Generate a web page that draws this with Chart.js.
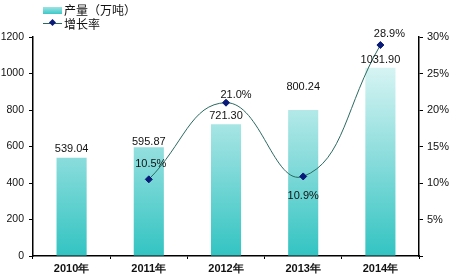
<!DOCTYPE html>
<html><head><meta charset="utf-8">
<script src="https://cdn.jsdelivr.net/npm/chart.js@4/dist/chart.umd.min.js"></script>
<style>
body{margin:0;background:#fff}
#wrap{position:relative;width:450px;height:278px}
.lg{position:absolute;font-family:'Noto Sans CJK SC',sans-serif;font-size:12px;color:#111;line-height:14px}
.sw{position:absolute}
</style></head><body>
<div id="wrap">
<canvas id="c" width="450" height="278"></canvas>
<div class="sw" style="left:43px;top:7px;width:19px;height:7px;background:linear-gradient(#9fe3e3,#3cc8c8)"></div>
<div class="lg" style="left:64px;top:3px">产量（万吨）</div>
<div class="sw" style="left:43px;top:23px;width:19px;height:1px;background:#2a6a60"></div>
<div class="sw" style="left:50px;top:20px;width:5px;height:5px;background:#0a1a78;transform:rotate(45deg)"></div>
<div class="lg" style="left:64px;top:17px">增长率</div>
</div>
<script>
const categories = ['2010年','2011年','2012年','2013年','2014年'];
const output = [539.04, 595.87, 721.30, 800.24, 1031.90];
const growth = [null, 10.5, 21.0, 10.9, 28.9];
const leftTicks = [0,200,400,600,800,1000,1200];
const rightTicks = [0,5,10,15,20,25,30];

const gradPlugin = {
  id:'grad',
  beforeDatasetDraw(chart, args){
    if(args.index!==0) return;
    const ctx = chart.ctx;
    args.meta.data.forEach(el=>{
      const g = ctx.createLinearGradient(0, el.y, 0, el.base);
      g.addColorStop(0,'#d6f4f3');
      g.addColorStop(0.45,'#8fdedd');
      g.addColorStop(1,'#33c4c2');
      el.options.backgroundColor = g;
    });
  }
};
// label offsets (dx, dy) relative to bar top / point
const barLblOff = [[0,-9],[0,-5],[0,-8],[0,-23],[0,-8]];
const lineLblOff = [null,[2,-15],[10,-8],[0,20],[9,-11]];
const labelPlugin = {
  id:'lbl',
  afterDatasetsDraw(chart){
    const ctx = chart.ctx;
    ctx.save();
    ctx.font = '11px "Liberation Sans", Arial, sans-serif';
    ctx.fillStyle = '#111';
    ctx.textAlign = 'center';
    ctx.textBaseline = 'middle';
    chart.getDatasetMeta(0).data.forEach((el,i)=>{
      ctx.fillText(output[i].toFixed(2), el.x + barLblOff[i][0], el.y + barLblOff[i][1]);
    });
    chart.getDatasetMeta(1).data.forEach((el,i)=>{
      if(growth[i]==null) return;
      ctx.fillText(growth[i].toFixed(1)+'%', el.x + lineLblOff[i][0], el.y + lineLblOff[i][1]);
    });
    ctx.restore();
  }
};

new Chart(document.getElementById('c'), {
  data:{
    labels: categories,
    datasets:[
      {type:'bar', data: output, yAxisID:'y', barPercentage:0.78, categoryPercentage:0.5, backgroundColor:'#3cc8c8', order:2},
      {type:'line', data: growth, yAxisID:'y1', borderColor:'#2a6a60', borderWidth:1, tension:0.45,
       pointStyle:'rectRot', pointRadius:3.5, pointBackgroundColor:'#0a1a78', pointBorderColor:'#0a1a78', order:1, spanGaps:false}
    ]
  },
  options:{
    responsive:false, animation:false,
    layout:{padding:{top:37,left:0,right:0,bottom:0}},
    plugins:{legend:{display:false}, tooltip:{enabled:false}},
    scales:{
      x:{
        grid:{display:true, drawOnChartArea:false, offset:true, tickLength:3, color:'#000'},
        border:{color:'#000', width:1.5},
        ticks:{color:'#111', font:{family:'Liberation Sans', size:11, weight:'bold'}, padding:3},
        afterFit(s){ s.height = 22; }
      },
      y:{
        position:'left', min:0, max:1200,
        afterBuildTicks(s){ s.ticks = leftTicks.map(v=>({value:v})); },
        grid:{drawOnChartArea:false, tickLength:4, color:'#000'},
        border:{color:'#000', width:1.5},
        ticks:{color:'#111', font:{family:'Liberation Sans', size:10.5}, padding:5,
          callback:(v)=> String(v)},
        afterFit(s){ s.width = 33; }
      },
      y1:{
        position:'right', min:0, max:30,
        afterBuildTicks(s){ s.ticks = rightTicks.map(v=>({value:v})); },
        grid:{drawOnChartArea:false, tickLength:4, color:'#000'},
        border:{color:'#000', width:1.5},
        ticks:{color:'#111', font:{family:'Liberation Sans', size:11}, padding:4,
          callback:(v)=> v===0 ? '' : v+'%'},
        afterFit(s){ s.width = 31; }
      }
    }
  },
  plugins:[gradPlugin, labelPlugin]
});
</script>
</body></html>
